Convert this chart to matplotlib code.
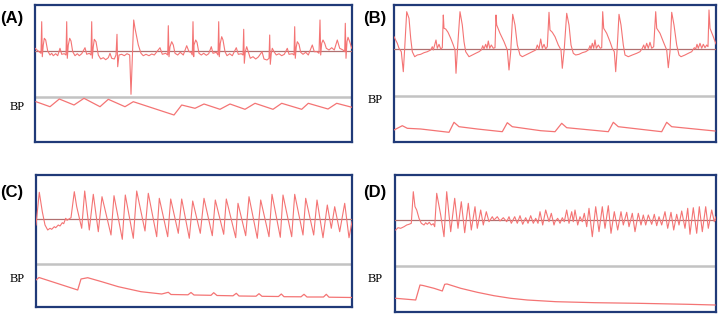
import matplotlib
matplotlib.use("Agg")
import matplotlib.pyplot as plt
import numpy as np

# ---------------- data (time in samples, amplitude in trace units) ----------------
panel_labels = ["(A)", "(B)", "(C)", "(D)"]
bp_label = "BP"

A_ECG = [(0, 2.7), (6, -2.3), (6.7, 29.3), (7.3, -5.7), (8.3, 6), (9.3, 12.7), (10.7, 11), (12.7, 0),
         (15, -4), (16.7, -2.3), (18.3, -4.7), (20.7, -2.7), (22.7, -4.7), (25, 2.7), (26.7, -3.3), (29.3, -2.7),
         (31, -4), (31.7, 29.3), (32.3, -7.3), (33.3, 6), (34.7, 12.7), (36, 10), (37.7, -0.7),
         (40, -4.7), (42.3, -2.7), (44.3, -4.7), (46.7, -2.7), (50, 3.3), (51.7, -3.3), (54.3, -2.3),
         (56, -4), (56.7, 29.3), (57.3, -7.3), (58.3, 4.3), (59.3, 11.7), (61, 9.3), (63.3, -4),
         (65.7, -8), (68.3, -6.7), (70.7, -8.7), (73.3, -6.7), (75, -2.3), (76.7, -7.3), (79.3, -8),
         (81, -4), (82, 16.7), (82.7, -15.7), (84, -4), (86.7, -3.3), (89.3, -4.7), (92, -2.7), (94.7, -4),
         (96, -43.3), (98.7, 31), (100, 22.7), (101.7, 14.3), (103.3, 6), (106, -2.3),
         (108.3, -4.7), (111, -3.3), (114, -4.7), (116.7, -3), (119.3, -4), (125, 3.3), (127.3, -3.3), (130.7, -2.3),
         (132.7, -4), (133.3, 25.3), (134, -5.7), (135, 4.3), (136.7, 9.3), (138.3, 6), (140, -2.3),
         (142.7, -4), (145.3, -1.3), (148.3, -4), (151.7, 5.3), (154, -0.7), (156, -1.3),
         (157.3, -4), (158, 29.3), (158.7, -5.7), (159, 6), (160.7, 11), (162, 8.7), (164, -2.3),
         (166.3, -4), (168.7, -2.3), (171.3, -4.3), (173.7, -2.7), (176.3, 4.3), (178, -2.3), (181.3, -1.3),
         (183, -4), (183.7, 29.3), (184.3, -5.7), (185.3, 7.7), (186.7, 14.3), (188, 11), (190, -0.7),
         (192, -4.7), (194.7, -2.7), (197.3, -4.7), (201.3, 3.3), (203.3, -3.3), (206.3, -2.7),
         (208, -4), (208.7, 21.7), (209.3, -12.3), (210.3, -0.7), (211.7, 4.3), (213.3, -0.7),
         (215.3, -7.3), (218, -5.7), (220.7, -8), (223.3, -6), (227, -0.7), (229, -8), (232, -9),
         (234, -7.3), (234.7, 16), (235.3, -13.3), (236.3, -2.3), (237.3, 2.7), (239, -0.7),
         (241.3, -4), (244, -2.7), (246.7, -4.7), (249.3, -3.3), (252.3, 2.7), (254, -3.3), (257.3, -2.7),
         (259, -4), (259.7, 24.3), (260.3, -7.3), (261.3, 4.3), (262.3, 9.3), (264, 6.7), (265.7, -1.3),
         (268, -3.3), (270.7, -1.3), (273.3, -4), (277.3, 6), (279.3, -0.7), (282, -0.7),
         (284, -2.3), (285, 31), (285.7, -4), (286.7, 7.7), (288, 11), (289.7, 7.7), (291.3, 2.7),
         (294, 1), (296.7, 3.3), (299.3, 1), (302.3, 11), (304.7, 2.7), (308, 1),
         (309.7, -0.7), (310.3, 27.7), (311, -7.3), (312, 9.3), (313, 13.7), (314.7, 9.3), (316.7, 2.7)]

A_BP = [(1, 40.3), (15, 35.3), (24.3, 43), (39, 37), (49, 43.7), (65, 35.3), (73.3, 42.7), (90, 35.3),
        (98.3, 40.3), (139, 27), (146.7, 37), (160, 33.7), (169, 38), (185, 32.7), (195, 38), (210, 32.7),
        (220, 38.7), (238, 32.7), (246.7, 38.7), (266.7, 32.7), (273.3, 38.7), (293, 33), (301.7, 38.7),
        (317, 34.7)]

B_ECG = [(0, 12.3), (3.3, 5.7), (5, 0.7), (7.3, -2.7), (9.3, -22.7), (10.7, 0.7), (12.7, 37.3), (15, 30.7),
         (16.7, 10.7), (18.3, -2.7), (20.7, -7.7), (23.3, -6), (26.7, -5.3), (30, -3.7), (33.3, -2.7), (36.7, -1),
         (38.3, 2.3), (39.3, -1), (40.7, 4), (42, 9), (43.3, 0.7), (45, 4.7), (46.7, 0), (48.3, 1.3),
         (49.3, 34), (50, 20.7), (51.7, 20), (54, 16.7), (56.7, 10.7), (59.3, 4), (61, -1), (62, -24.3),
         (63.3, -2.7), (66, 37.3), (68.3, 24), (70, 7.3), (71.7, -2.7), (75, -7.7), (78.3, -6), (81.7, -4.3),
         (85, -2.7), (87.3, -1), (88.7, 3.3), (90, 0), (91.7, 4.7), (93, 0.7), (94.3, 8), (95.7, 0.7),
         (97.3, 4), (99.3, 0.7), (101, 1.3), (102, 34), (102.7, 24), (106, 15.7), (110, 7.3), (113.3, -1),
         (115, -21), (116.7, -2.7), (118.7, 34.7), (121, 24), (123.3, 4), (126, -6), (128.3, -7.7), (131.7, -6),
         (135, -4.3), (138.3, -2.7), (141.7, -1), (143.3, 4), (145, 0), (146.7, 10), (148.3, 0.7), (150, 4.7),
         (151.7, 0), (153.3, 2.3), (155, 36.7), (156, 19), (158.3, 16.7), (161, 12.3), (164.3, 4), (167, -1),
         (168.3, -19.3), (170.3, 0.7), (172.7, 35.7), (175, 24), (177, 4), (179.3, -4.3), (181.7, -6),
         (185, -5.3), (188.3, -3.7), (191.7, -2.7), (194.3, -1), (196, 3.3), (197, 0), (198.3, 5.7),
         (199.7, 0.7), (201, 9), (202.3, 0.7), (204.3, 4), (206.3, 0.7), (207.7, 1.3), (208.7, 37.3),
         (209.7, 20.7), (212.7, 15.7), (216, 7.3), (218.3, 0.7), (220.3, -2.7), (221.7, -22.7), (223, -2.7),
         (225, 34.7), (227, 24), (229.3, 4), (231, -6), (234.3, -7.7), (238.3, -6), (242.7, -4.3), (246, -2.7),
         (248.3, 0.7), (249.7, 4), (251, 0), (252.7, 5.7), (254.3, 0.7), (256, 6.7), (257.7, 0.7), (259.7, 2.3),
         (261.7, 37.3), (262.7, 20.7), (266, 15.7), (269.3, 7.3), (272.7, -1), (274.3, -18.7), (276, -2.7),
         (277.7, 36.7), (280, 24), (282.7, 4), (285, -6), (287, -7.7), (291, -6), (294.3, -4.3), (297.7, -2.7),
         (300.3, 1.3), (301.7, 0), (303, 4.7), (304.3, 0.7), (306, 5.7), (307.7, 0.7), (309.3, 4.7), (311, 1.3),
         (312.7, 4), (314, 2.3), (315, 39), (316, 20.7), (319.3, 12.3), (322, 5)]

B_BP = [(0, 12), (8.3, 16.3), (13.3, 13.7), (26.7, 13), (55, 9.7), (60, 19.7), (65, 15.3), (83.3, 13),
        (108.3, 10.3), (113.3, 19.3), (118.3, 15.3), (146.7, 11.3), (161, 10.3), (167.7, 18.7), (172.7, 14.3),
        (214.3, 10.3), (219.3, 19.7), (224.3, 15.3), (267.7, 10.3), (272.7, 19.7), (277.7, 15.3), (321, 11)]

C_ECG = [(0, -6), (3.3, 26.7), (6.3, 7.3), (9, -6), (11.7, -11), (14, -9.3), (15.7, -10.3), (18.3, -7.7),
         (19.7, -8.7), (22.3, -6), (24, -7), (26.3, -3.7), (27.7, -4.7), (29.7, 0.7), (31, -1.3), (33, 0),
         (35, 1.3), (38.3, 27.3), (40.7, 12.3), (45.7, -9.3), (48.7, 28), (53.3, -11), (57.3, 24.7),
         (62.3, -12.7), (66, 22.3), (75, -16), (78, 23.3), (86.3, -20.3), (89.3, 24), (97.3, -19.3),
         (100.7, 28), (109, -12), (112.3, 25.7), (120.7, -17.7), (123.3, 20.7), (131.7, -17.7), (134.7, 20),
         (142.3, -14.3), (145.7, 20), (153.3, -19.3), (156.7, 18), (164.3, -14.3), (168, 20.7), (176.3, -16.7),
         (179.3, 19), (187.7, -15.3), (190.3, 20), (199.7, -18.7), (202, 15.7), (209.7, -16.7), (213, 22.3),
         (221.3, -19.3), (224.7, 19), (233, -17.7), (236, 24.7), (244.3, -18.3), (247, 24), (255.7, -17.7),
         (258.7, 24.7), (267, -16), (269.7, 20.7), (277.7, -16), (281, 19), (287, -18.7), (291.3, 14),
         (295.3, -9.3), (298.7, 12.3), (303.7, -12.7), (308.7, 15.7), (313, -18.7), (316, -2.7)]

C_BP = [(0, 27), (3, 29.5), (41.7, 17), (45, 28), (51.7, 29.3), (65.7, 25.3), (82.3, 20.3), (105, 15.3),
        (125.7, 13), (132.3, 14.7), (135, 12.5), (152, 12.2), (155, 14.5), (158, 12), (175, 11.7),
        (177.7, 14.3), (181, 11.5), (197, 11.2), (200.3, 13.7), (203, 11), (220, 10.8), (223, 13.3),
        (226, 10.7), (242.5, 10.5), (245.3, 13), (248, 10.3), (265, 10.2), (268, 12.7), (271, 10),
        (287.5, 10), (290.3, 12.7), (293, 9.8), (315.7, 9.5)]

D_ECG = [(0.7, -10), (3, -7.7), (5.7, -8.3), (9, -6.7), (11.7, -5), (14, -4.3), (16.3, -3.3), (18.3, 28.3),
         (20, 13.3), (21.7, 10), (24, 1.7), (26.3, -3.3), (29, -5), (30.7, -2.7), (32.3, -4.3), (34.3, -2.3),
         (36.3, -5), (38.3, -3.7), (39.7, -6.7), (41.7, 26.7), (45.7, 5), (49, -16.7), (51.7, 28.3),
         (55.7, -11.7), (59.7, 21.7), (63, -8.3), (66.3, 18.3), (69.7, -12.7), (73.3, 16.7), (76.3, -10),
         (80, 13.3), (82.3, -8.3), (85.7, 10), (88.3, -5), (91.3, 8.3), (94, -1.7), (97.3, 3.3), (99, 0),
         (102.3, 3.3), (105, -1), (108.3, 2.3), (111.7, -1.7), (114, 3.3), (116.3, -3.3), (119.7, 3.3),
         (122.3, -3.3), (125, 4.3), (127.7, -4.3), (130.7, 2.3), (133, -3.3), (135.7, 4.3), (138.3, -3.3),
         (140.7, 1.7), (143, -3.3), (145, 8.3), (147.7, -5), (150.7, 10), (154, -1.7), (156.3, 6.7),
         (159, -5), (160, -1.7), (162.7, 1.7), (165, -3.3), (167.3, 2.3), (169.3, -1.7), (171.7, 10),
         (174, -3.3), (176.7, 8.3), (178.3, -1.7), (180, 10), (182.7, -5), (185, 3.3), (187.3, -1.7),
         (189.3, 6.7), (191.7, -6.7), (194, 11.7), (197.3, -16.7), (200.7, 13.3), (204, -11.7), (207.3, 13.3),
         (210, -8.3), (213.3, 14.3), (216, -13.3), (219.3, 8.3), (222.7, -10), (226, 8.3), (228.3, -5),
         (231.7, 7.7), (234, -6.7), (237.3, 6.7), (240, -11.7), (243.3, 6.7), (246, -5), (248.3, 5),
         (250.7, -5), (253.3, 5), (256.7, -4.3), (259.3, 5.7), (261.7, -5.7), (264, 3.3), (266.7, -5),
         (270, 8.3), (272.7, -8.3), (276, 7.7), (278.7, -10), (281.7, 5.7), (284, -5), (286.7, 9),
         (290, -8.3), (292.7, 11.7), (295, -14.3), (298.3, 12.3), (301.7, -13.3), (304.3, 13.3),
         (307.3, -11.7), (310.7, 13.3), (313.3, -8.3), (316.7, 10), (319.3, -1.7), (321, 3.3)]

D_BP = [(0.7, 13.7), (20.7, 12), (25, 27), (28, 26.5), (39, 23.7), (47.3, 21), (49.7, 27.7), (52, 28),
        (65.7, 23.7), (82.3, 19.7), (99, 16.3), (115.7, 13.7), (132.3, 12), (161, 10.3), (200, 9.3),
        (243, 8.7), (293, 7.7), (320, 7)]

# ---------------- layout (pixel boxes: left, top, right, bottom, separator, baseline) ----------------
FIG_W, FIG_H = 720, 314
boxes = {
    "A": (35, 5, 352, 142, 97, 51),
    "B": (394, 5, 716, 142, 96, 49),
    "C": (36, 175, 352, 307, 264, 219),
    "D": (395, 175, 716, 312, 266, 220),
}
label_pos = {"A": (0, 18), "B": (363, 18), "C": (0, 192), "D": (363, 192)}
bp_pos = {"A": (10, 107), "B": (368, 100), "C": (10, 279), "D": (368, 279)}
series = {"A": (A_ECG, A_BP), "B": (B_ECG, B_BP), "C": (C_ECG, C_BP), "D": (D_ECG, D_BP)}

TRACE = "#f47474"
BASE = "#b07070"
SEP = "#c3c3c3"
FRAME = "#203a78"

fig = plt.figure(figsize=(FIG_W / 100, FIG_H / 100), dpi=100)
fig.patch.set_facecolor("white")


def fax(l, t, r, b):
    return fig.add_axes([l / FIG_W, 1 - b / FIG_H, (r - l) / FIG_W, (b - t) / FIG_H])


for key, lab in zip(["A", "B", "C", "D"], panel_labels):
    L, T, R, B, S, BL = boxes[key]
    W = R - L
    ecg, bp = series[key]

    frame = fax(L, T, R, B)
    frame.set_xticks([]); frame.set_yticks([])
    frame.set_xlim(0, 1); frame.set_ylim(0, 1)
    for sp in frame.spines.values():
        sp.set_color(FRAME); sp.set_linewidth(1.6)
    frame.axhline((B - S) / (B - T), color=SEP, lw=1.8, zorder=1)

    ax1 = fax(L, T, R, S)
    ax1.set_xlim(0, W); ax1.set_ylim(BL - S, BL - T)
    ax1.axis("off"); ax1.patch.set_alpha(0)
    ax1.axhline(0, color=BASE, lw=0.9, zorder=1)
    t, v = zip(*ecg)
    ax1.plot(t, v, color=TRACE, lw=0.8, zorder=2)

    ax2 = fax(L, S, R, B)
    ax2.set_xlim(0, W); ax2.set_ylim(0, B - S)
    ax2.axis("off"); ax2.patch.set_alpha(0)
    t, v = zip(*bp)
    ax2.plot(t, v, color=TRACE, lw=0.9, zorder=2)

    lx, ly = label_pos[key]
    fig.text(lx / FIG_W, 1 - ly / FIG_H, lab, ha="left", va="center",
             fontsize=12, fontweight="bold", family="Liberation Sans")
    bx, by = bp_pos[key]
    fig.text(bx / FIG_W, 1 - by / FIG_H, bp_label, ha="left", va="center",
             fontsize=9, family="Liberation Serif")

fig.savefig("out.png", dpi=100)
